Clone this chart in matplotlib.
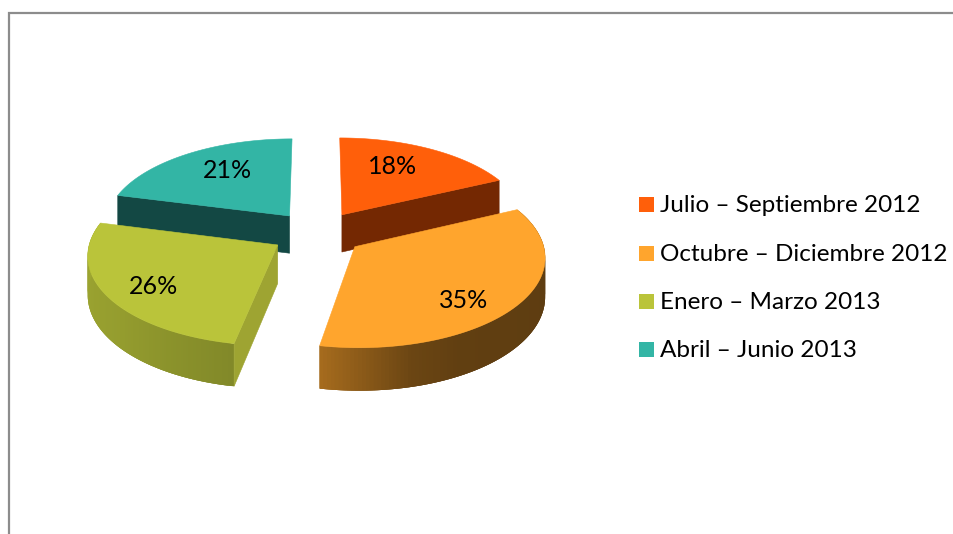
import numpy as np
import matplotlib
matplotlib.use("Agg")
import matplotlib.pyplot as plt
from matplotlib.patches import Polygon, Rectangle

labels = ["Julio – Septiembre 2012", "Octubre – Diciembre 2012", "Enero – Marzo 2013", "Abril – Junio 2013"]
values = [18, 35, 26, 21]
colors = ["#FF5F0A", "#FFA52D", "#BAC43A", "#33B5A5"]
cut_colors = ["#742802", None, "#9EA432", "#134844"]
pct_pos = [(393, 167), (464, 300), (154, 287), (227, 171)]

XC, YC, A, B, P, EXPLODE, DEPTH = 317.5, 233, 186, 88, 0.1, 0.25, 38

plt.rcParams['font.family'] = ['Lato', 'DejaVu Sans']
fig = plt.figure(figsize=(9.54, 5.34), dpi=100)
ax = fig.add_axes([0, 0, 1, 1])
ax.set_xlim(0, 954)
ax.set_ylim(534, 0)
ax.axis("off")


def project(X, Y, drop=0.0):
    s = 1 / (1 + P * np.asarray(Y))
    return np.column_stack([XC + A * np.asarray(X) * s, YC - B * np.asarray(Y) * s + drop * DEPTH * s])


def shade(color, f):
    rgb = np.array(matplotlib.colors.to_rgb(color))
    return tuple(rgb * f)


fr = np.cumsum([0] + values) / sum(values) * 2 * np.pi
slices = {}
for i in range(4):
    a0, a1 = fr[i], fr[i + 1]
    mid = (a0 + a1) / 2
    t = np.linspace(a0, a1, 120)
    ox, oy = EXPLODE * np.sin(mid), EXPLODE * np.cos(mid)
    slices[i] = (t, ox + np.sin(t), oy + np.cos(t), ox, oy)


def outer(i, f):
    # overlapping strips, so that no seams show between them
    t, X, Y, _, _ = slices[i]
    n = len(t)
    for k in range(n - 1):
        e = min(k + 4, n)
        top_pts = project(X[k:e], Y[k:e])
        bot_pts = project(X[k:e], Y[k:e], 1.0)[::-1]
        ax.add_patch(Polygon(np.vstack([top_pts, bot_pts]), closed=True,
                             fc=shade(colors[i], f(t[k])), ec="none", lw=0))


def cut(i, end):
    t, X, Y, ox, oy = slices[i]
    j = 0 if end == 0 else -1
    pts = np.vstack([project([ox, X[j]], [oy, Y[j]]), project([X[j], ox], [Y[j], oy], 1.0)])
    ax.add_patch(Polygon(pts, closed=True, fc=cut_colors[i], ec=cut_colors[i], lw=0.4))


def top(i):
    t, X, Y, ox, oy = slices[i]
    pts = np.vstack([project([ox], [oy]), project(X, Y)])
    ax.add_patch(Polygon(pts, closed=True, fc=colors[i], ec=colors[i], lw=0.4))


def orange_f(a):
    return float(np.interp(np.degrees(a), [65, 150, 165, 191], [0.36, 0.38, 0.42, 0.66]))


def yellow_f(a):
    return float(np.interp(np.degrees(a), [191, 230, 285], [0.70, 0.80, 0.86]))


# back to front
cut(3, 0)
top(3)
cut(0, 1)
top(0)
outer(2, yellow_f)
cut(2, 0)
top(2)
outer(1, orange_f)
top(1)

for v, (x, y) in zip(values, pct_pos):
    ax.text(x, y, f"{v}%", fontsize=18, color="black", ha="center", va="center")

leg_y = [204.5, 253.5, 301.5, 349.5]
for lab, c, y in zip(labels, colors, leg_y):
    ax.add_patch(Rectangle((639, y - 7.5), 15, 15, fc=c, ec="none"))
    ax.text(660, y + 1, lab, fontsize=17.5, color="black", ha="left", va="center")

# frame
ax.plot([9.5, 9.5, 954], [534, 12.5, 12.5], color="#8C8C8C", lw=1.6, solid_joinstyle="miter")

fig.savefig("out.png", dpi=100)
